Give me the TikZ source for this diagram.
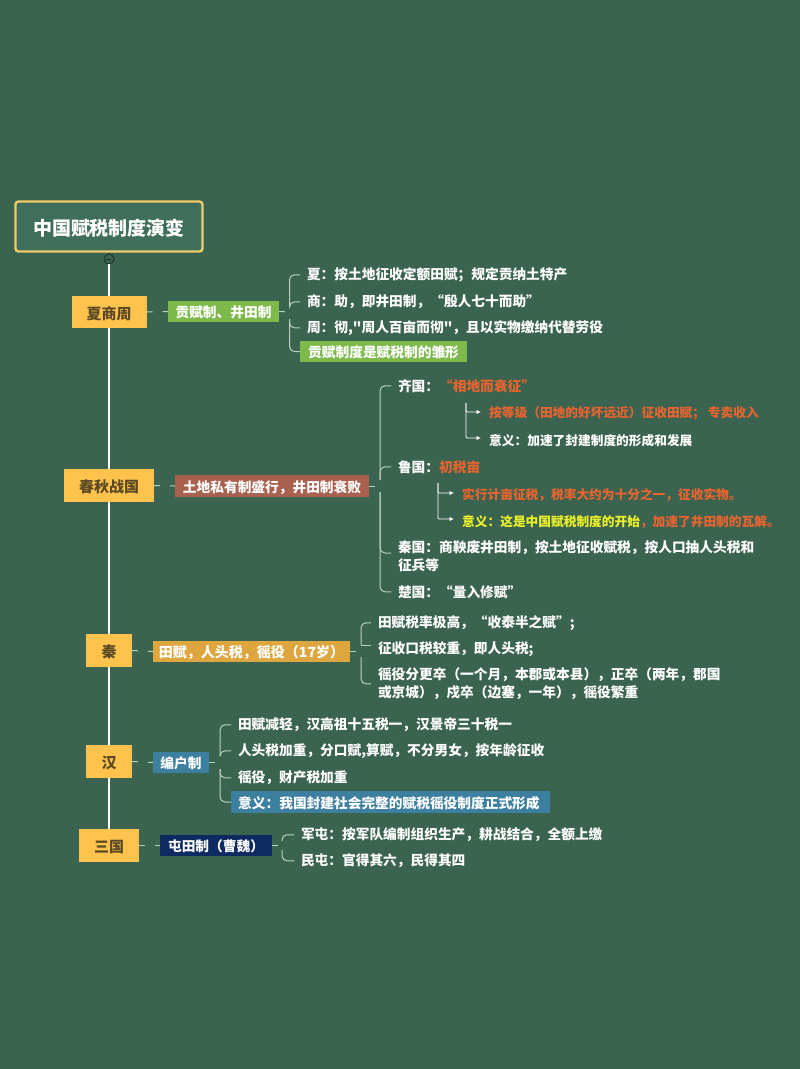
\documentclass[tikz,border=0pt]{standalone}
\usepackage{fontspec}
\setmainfont{Noto Sans CJK SC}
\newfontfamily\plainq{Noto Sans CJK SC}
\usetikzlibrary{arrows.meta}
\definecolor{bgc}{HTML}{3A6350}
\definecolor{gold}{HTML}{FFC34D}
\definecolor{ink}{HTML}{5A4A24}
\definecolor{rim}{HTML}{EFCB6A}
\definecolor{titlefill}{HTML}{3F6E5B}
\definecolor{pale}{HTML}{B9D0C3}
\definecolor{hot}{HTML}{E9642F}
\definecolor{lemon}{HTML}{ECF22A}
\definecolor{grassc}{HTML}{7DB94B}
\definecolor{brickc}{HTML}{A9614F}
\definecolor{amberc}{HTML}{DDA63F}
\definecolor{tealc}{HTML}{3C7F9F}
\definecolor{navyc}{HTML}{0E2A60}
\tikzset{
  era/.style={fill=gold,text=ink,font=\bfseries\fontsize{15}{18}\selectfont,inner sep=0pt,anchor=center,text height=15.5pt,text depth=1.5pt},
  band/.style={text=white,font=\bfseries\fontsize{13.7}{16}\selectfont,inner sep=0pt,anchor=center,text height=14pt,text depth=1.2pt},
  leaf/.style={text=white,font=\bfseries\fontsize{13.7}{18}\selectfont,inner ysep=0pt,inner xsep=0pt,outer xsep=7pt,outer ysep=0pt,anchor=west,align=left,yshift=-0.8pt},
  bar/.style={text=white,font=\bfseries\fontsize{13.7}{18}\selectfont,inner ysep=0pt,inner xsep=0pt,anchor=west,text height=14pt,text depth=1.2pt},
  minor/.style={text=white,font=\bfseries\fontsize{12.7}{16}\selectfont,inner sep=0pt,anchor=west,yshift=-0.8pt},
  link/.style={draw=pale,line width=1pt,dash pattern=on 6pt off 10pt on 6pt},
  stub/.style={draw=pale,line width=1pt,dash pattern=on 6pt off 20pt},
  brace/.style={draw=pale,line width=1pt,rounded corners=5pt},
  sub/.style={draw=white,line width=0.9pt,rounded corners=1pt,-{Latex[length=4.5pt,width=4.5pt]}},
  trunk/.style={draw=white,line width=2.4pt},
}
\begin{document}
\begin{tikzpicture}[x=1pt,y=-1pt]
\useasboundingbox (0,0) rectangle (800,1069);
\fill[bgc] (0,0) rectangle (800,1069);

% title and trunk
\node[draw=rim,fill=titlefill,line width=2.4pt,rounded corners=3pt,minimum width=187pt,minimum height=50pt,inner sep=0pt,text=white,font=\bfseries\fontsize{19}{22}\selectfont,text height=20pt,text depth=1.5pt] (title) at (109,226.5) {中国赋税制度演变};
\node[circle,draw=black!55!bgc,line width=0.8pt,fill=bgc,minimum size=10pt,inner sep=0pt] (fold) at (109,259) {};
\draw[draw=black!55!bgc,line width=0.7pt] (fold.west) ++(2.5,0) -- ++(5,0);
\node[era,minimum width=75pt,minimum height=32pt] (e1) at (109,312) {夏商周};
\node[era,minimum width=90pt,minimum height=33pt] (e2) at (109,485.5) {春秋战国};
\node[era,minimum width=46pt,minimum height=33pt] (e3) at (109,650.5) {秦};
\node[era,minimum width=46pt,minimum height=33pt] (e4) at (109,761.5) {汉};
\node[era,minimum width=60pt,minimum height=33pt] (e5) at (109,845.5) {三国};
\draw[trunk] (fold.south) -- (e1.north);
\draw[trunk] (e1.south) -- (e2.north);
\draw[trunk] (e2.south) -- (e3.north);
\draw[trunk] (e3.south) -- (e4.north);
\draw[trunk] (e4.south) -- (e5.north);

% second level
\node[band,fill=grassc,minimum width=111pt,minimum height=21pt] (b1) at (223.5,311.5) {贡赋制、井田制};
\node[band,fill=brickc,minimum width=194pt,minimum height=22pt] (b2) at (272,486) {土地私有制盛行，井田制衰败};
\node[band,fill=amberc,minimum width=197pt,minimum height=21pt,font=\bfseries\fontsize{14}{16}\selectfont] (b3) at (251.5,651.5) {田赋，人头税，徭役（17岁）};
\node[band,fill=tealc,minimum width=56pt,minimum height=21pt] (b4) at (181,762.5) {编户制};
\node[band,fill=navyc,minimum width=112pt,minimum height=21pt] (b5) at (216,845.5) {屯田制（曹魏）};
\draw[link] (e1.east) -- (b1.west);
\draw[link] (e2.east) -- (b2.west);
\draw[link] (e3.east) -- (b3.west);
\draw[link] (e4.east) -- (b4.west);
\draw[link] (e5.east) -- (b5.west);

% xia shang zhou
\node[leaf] (a1) at (300,274) {夏：按土地征收定额田赋；规定贡纳土特产};
\node[leaf] (a2) at (300,301) {商：助，即井田制，“殷人七十而助”};
\node[leaf] (a3) at (300,327) {周：彻,{\plainq "周人百亩而彻"}，且以实物缴纳代替劳役};
\node[bar,fill=grassc,minimum height=21pt,text width=167pt,align=left] (a4) at (300,351.5) {\hspace*{8pt}贡赋制度是赋税制的雏形};
\coordinate (ja) at (289.5,312);
\coordinate (jau) at (289.5,306);
\coordinate (jad) at (289.5,319);
\draw[stub] (b1.east) -- (ja);
\draw[brace] (jau) |- (a1.west);
\draw[brace] (jau) |- (a2.west);
\draw[brace] (jad) |- (a3.west);
\draw[brace] (jad) |- (a4.west);

% chunqiu zhanguo
\node[leaf] (c1) at (391,385) {齐国：\textcolor{hot}{“相地而衰征”}};
\node[leaf] (c2) at (391,466) {鲁国：\textcolor{hot}{初税亩}};
\node[leaf] (c3) at (391,555.5) {秦国：商鞅废井田制，按土地征收赋税，按人口抽人头税和\\征兵等};
\node[leaf] (c4) at (391,591) {楚国：“量入修赋”};
\coordinate (jc) at (380,486);
\coordinate (jcu) at (380,480);
\coordinate (jcd) at (380,492);
\draw[stub] (b2.east) -- (jc);
\draw[brace] (jcu) |- (c1.west);
\draw[brace] (jcu) |- (c2.west);
\draw[brace] (jcd) |- (c3.west |- 0,553);
\draw[brace] (jcd) |- (c4.west);

\node[minor,text=hot] (q1) at (489,412) {按等级（田地的好坏远近）征收田赋； 专卖收入};
\node[minor] (q2) at (489,440) {意义：加速了封建制度的形成和发展};
\coordinate (jq) at (466,403);
\coordinate (jq1) at (481,412);
\coordinate (jq2) at (481,438);
\draw[sub] (jq) |- (jq1);
\draw[sub] (jq) |- (jq2);
\node[minor,text=hot] (l1) at (462,494) {实行计亩征税，税率大约为十分之一，征收实物。};
\node[minor,text=hot] (l2) at (462,521) {\textcolor{lemon}{意义：这是中国赋税制度的开始}，加速了井田制的瓦解。};
\coordinate (jl) at (438,483);
\coordinate (jl1) at (454,493);
\coordinate (jl2) at (454,519);
\draw[sub] (jl) |- (jl1);
\draw[sub] (jl) |- (jl2);

% qin
\node[leaf] (d1) at (371,622) {田赋税率极高，“收泰半之赋”;};
\node[leaf] (d2) at (371,648) {征收口税较重，即人头税;};
\node[leaf] (d3) at (371,683) {徭役分更卒（一个月，本郡或本县），正卒（两年，郡国\\或京城），戍卒（边塞，一年），徭役繁重};
\coordinate (jd) at (361,651.5);
\coordinate (jdu) at (361,645);
\coordinate (jdd) at (361,657);
\draw[stub] (b3.east) -- (jd);
\draw[brace] (jdu) |- (d1.west);
\draw[brace] (jdu) -- (d2.west |- jdu);
\draw[brace] (jdd) |- (d3.west);

% han
\node[leaf] (h1) at (231,724) {田赋减轻，汉高祖十五税一，汉景帝三十税一};
\node[leaf] (h2) at (231,750) {人头税加重，分口赋,算赋，不分男女，按年龄征收};
\node[leaf] (h3) at (231,777) {徭役，财产税加重};
\node[bar,fill=tealc,minimum height=22pt,text width=319pt,align=left] (h4) at (231,802) {\hspace*{7pt}意义：我国封建社会完整的赋税徭役制度正式形成};
\coordinate (jh) at (220,762.5);
\coordinate (jhu) at (220,756);
\coordinate (jhd) at (220,769);
\draw[stub] (b4.east) -- (jh);
\draw[brace] (jhu) |- (h1.west);
\draw[brace] (jhu) |- (h2.west);
\draw[brace] (jhd) |- (h3.west);
\draw[brace] (jhd) |- (h4.west);

% sanguo
\node[leaf] (s1) at (294,834) {军屯：按军队编制组织生产，耕战结合，全额上缴};
\node[leaf] (s2) at (294,860) {民屯：官得其六，民得其四};
\coordinate (js) at (282,845.5);
\coordinate (jsu) at (282,841);
\coordinate (jsd) at (282,850);
\draw[stub] (b5.east) -- (js);
\draw[brace] (jsu) |- (s1.west);
\draw[brace] (jsd) |- (s2.west);
\end{tikzpicture}
\end{document}
